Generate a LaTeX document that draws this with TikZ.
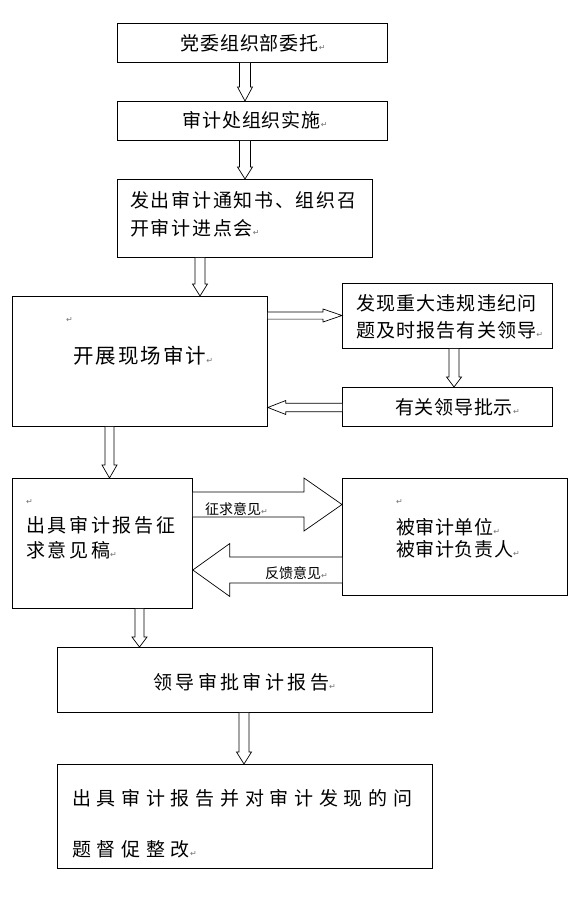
\documentclass[tikz,border=0pt]{standalone}
\usepackage{fontspec}
\newfontfamily\cjk{Noto Sans CJK SC}
\newfontfamily\symf{DejaVu Sans}
\usetikzlibrary{calc}
\newcommand\parmark{{\symf\fontsize{8}{8}\selectfont\color{black!55}↵}}
% vertical hollow arrow: from node, to node, x, shaft half, head half, head length
\newcommand\VArr[6]{%
  \draw[blk] let \p1=(#1.south), \p2=(#2.north) in
    ({(#3-#4)*1pt},\y1) -- ({(#3-#4)*1pt},{\y2+#6pt}) -- ({(#3-#5)*1pt},{\y2+#6pt})
    -- ({#3*1pt},\y2) -- ({(#3+#5)*1pt},{\y2+#6pt}) -- ({(#3+#4)*1pt},{\y2+#6pt})
    -- ({(#3+#4)*1pt},\y1);}
% horizontal hollow arrow: start anchor, tip anchor, y, shaft half, head half, signed head length
\newcommand\HArr[6]{%
  \draw[blk] let \p1=(#1), \p2=(#2) in
    (\x1,{-(#3-#4)*1pt}) -- ({\x2-#6pt},{-(#3-#4)*1pt}) -- ({\x2-#6pt},{-(#3-#5)*1pt})
    -- (\x2,{-#3*1pt}) -- ({\x2-#6pt},{-(#3+#5)*1pt}) -- ({\x2-#6pt},{-(#3+#4)*1pt})
    -- (\x1,{-(#3+#4)*1pt});}
\tikzset{
  box/.style={draw, line width=0.8pt, inner sep=0pt, anchor=north west},
  txt/.style={anchor=west, inner sep=0pt, font={\cjk\fontsize{19}{19}\selectfont\addfontfeatures{LetterSpace=#1}}},
  txt/.default=0,
  small/.style={anchor=west, inner sep=0pt, font={\cjk\fontsize{14}{14}\selectfont}},
  blk/.style={line width=0.7pt, fill=white},
}
\begin{document}
\begin{tikzpicture}[x=1pt,y=-1pt]
\useasboundingbox[fill=white] (0,0) rectangle (579,899);

% boxes
\node[box, minimum width=270pt, minimum height=39pt] (b1) at (117,23) {};
\node[box, minimum width=270pt, minimum height=39pt] (b2) at (117,101) {};
\node[box, minimum width=255pt, minimum height=78pt] (b3) at (117,179) {};
\node[box, minimum width=255pt, minimum height=130pt] (b4) at (12,296) {};
\node[box, minimum width=210pt, minimum height=65pt] (r1) at (342,283) {};
\node[box, minimum width=210pt, minimum height=39pt] (r2) at (342,387) {};
\node[box, minimum width=180pt, minimum height=130pt] (b5) at (12,478) {};
\node[box, minimum width=225pt, minimum height=117pt] (b6) at (342,478) {};
\node[box, minimum width=375pt, minimum height=65pt] (b7) at (57,647) {};
\node[box, minimum width=375pt, minimum height=104pt] (b8) at (57,764) {};

% texts
\node[txt=5] (t1) at (180,43) {党委组织部委托\parmark};
\node[txt=5] (t2) at (182,120) {审计处组织实施\parmark};
\node[txt=9] (t3a) at (130,200) {发出审计通知书、组织召};
\node[txt=9] (t3b) at (130,228) {开审计进点会\parmark};
\node[anchor=west, inner sep=0pt] (m4) at (66,320) {\parmark};
\node[txt=8, font={\cjk\fontsize{20.5}{20.5}\selectfont\addfontfeatures{LetterSpace=10}}] (t4) at (73,356) {开展现场审计\parmark};
\node[txt=6] (t5a) at (356,303) {发现重大违规违纪问};
\node[txt=6] (t5b) at (356,330) {题及时报告有关领导\parmark};
\node[txt=4] (t6) at (395,407) {有关领导批示\parmark};
\node[anchor=west, inner sep=0pt] (m5) at (26,502) {\parmark};
\node[txt=14] (t7a) at (26,525) {出具审计报告征};
\node[txt=14] (t7b) at (26,550) {求意见稿\parmark};
\node[anchor=west, inner sep=0pt] (m6) at (396,502) {\parmark};
\node[txt=3] (t8a) at (396,527) {被审计单位\parmark};
\node[txt=3] (t8b) at (396,549) {被审计负责人\parmark};
\node[txt=18] (t9) at (153,682) {领导审批审计报告\parmark};
\node[txt=30] (t10a) at (72,798) {出具审计报告并对审计发现的问};
\node[txt=30] (t10b) at (72,849) {题督促整改\parmark};

% arrows
\VArr{b1}{b2}{245}{5.5}{7.5}{14}
\VArr{b2}{b3}{245}{5.5}{7.5}{12}
\VArr{b3}{b4}{200}{5}{7.5}{12}
\HArr{b4.east}{r1.west}{315.5}{3.6}{6.5}{19}
\VArr{r1}{r2}{454}{5}{7.5}{10}
\HArr{r2.west}{b4.east}{407.5}{4.2}{7}{-18}
\VArr{b4}{b5}{109.5}{4.5}{7.5}{13}
\HArr{b5.east}{b6.west}{504.5}{12.5}{26.5}{38}
\HArr{b6.west}{b5.east}{570}{13}{26.5}{-37}
\VArr{b5}{b7}{139.5}{4.5}{7.5}{10}
\VArr{b7}{b8}{244}{5}{7.5}{12}
\draw[black!50, line width=1.6pt] let \p1=(b5.east) in (\x1,-492) -- (\x1,-517);
\draw[black!50, line width=1.6pt] let \p1=(b6.west) in (\x1,-557) -- (\x1,-583);

% arrow labels
\node[small] (l1) at (205,509) {征求意见\parmark};
\node[small] (l2) at (265,573) {反馈意见\parmark};
\end{tikzpicture}
\end{document}
